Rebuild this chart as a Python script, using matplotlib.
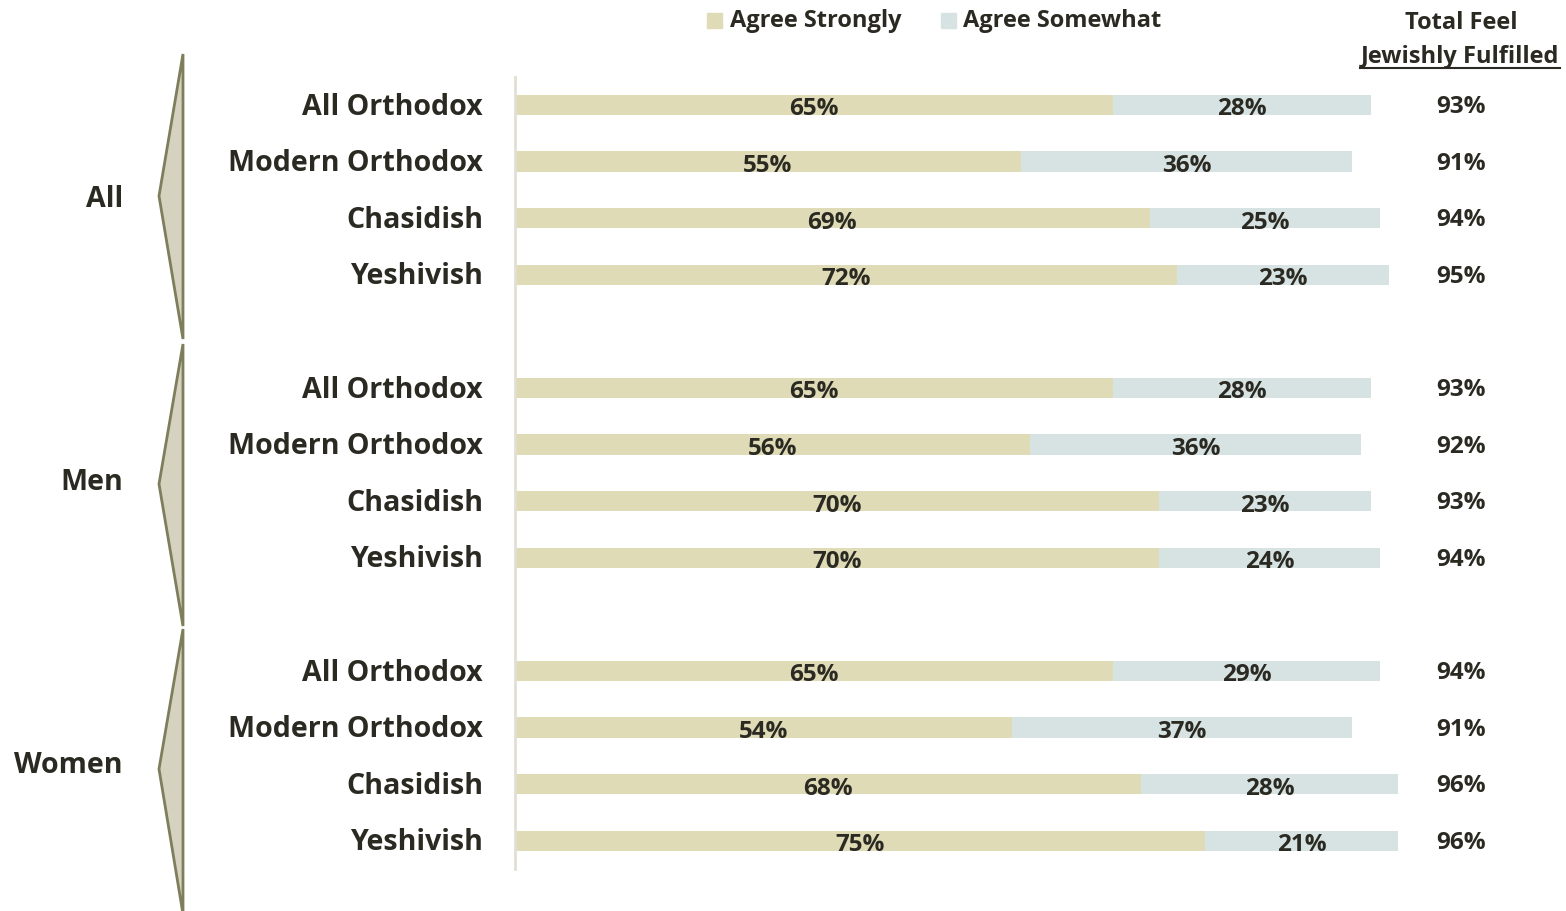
import matplotlib
matplotlib.use('Agg')
import matplotlib.pyplot as plt
from matplotlib.patches import Polygon, Rectangle
from matplotlib.lines import Line2D

# data
groups = ['All', 'Men', 'Women']
categories = ['All Orthodox', 'Modern Orthodox', 'Chasidish', 'Yeshivish']
strongly = [[65, 55, 69, 72],
            [65, 56, 70, 70],
            [65, 54, 68, 75]]
somewhat = [[28, 36, 25, 23],
            [28, 36, 23, 24],
            [29, 37, 28, 21]]
totals = [[93, 91, 94, 95],
          [93, 92, 93, 94],
          [94, 91, 96, 96]]

c_strong = '#dfdbb7'
c_some = '#d7e3e3'
c_text = '#2b2a22'
plt.rcParams['font.family'] = ['Open Sans', 'DejaVu Sans']
plt.rcParams['font.weight'] = 'bold'

W, H = 1566, 912
fig = plt.figure(figsize=(W / 100, H / 100), dpi=100)
ax = fig.add_axes([515 / W, 0, 920 / W, 1])
ax.set_xlim(0, 100)
row_px = 56.6
ax.set_ylim((H - 106) / row_px, -106 / row_px)
ax.axis('off')

def xd(px):
    return (px - 515) / 9.2

for g, grp in enumerate(groups):
    for c, cat in enumerate(categories):
        y = g * 5 + c
        s = strongly[g][c]
        m = somewhat[g][c]
        ax.barh(y, s, height=0.36, color=c_strong, left=0)
        ax.barh(y, m, height=0.36, color=c_some, left=s)
        ax.text(s / 2, y + 0.06, f'{s}%', ha='center', va='center', fontsize=17.5, color=c_text)
        ax.text(s + m / 2, y + 0.06, f'{m}%', ha='center', va='center', fontsize=17.5, color=c_text)
        ax.text(xd(1461), y + 0.02, f'{totals[g][c]}%', ha='center', va='center', fontsize=17.5,
                color=c_text, clip_on=False)
        ax.text(xd(483), y + 0.02, cat, ha='right', va='center', fontsize=20.6, color=c_text, clip_on=False)
    ax.text(xd(123), g * 5 + 1.66, grp, ha='right', va='center', fontsize=20.6, color=c_text, clip_on=False)

ax.plot([0, 0], [-0.5, 13.5], color='#e2dfd3', lw=2, clip_on=False)

# header on the right
ax.text(xd(1461), -1.47, 'Total Feel', ha='center', va='center', fontsize=17, color=c_text, clip_on=False)
ax.text(xd(1460), -0.86, 'Jewishly Fulfilled', ha='center', va='center', fontsize=17, color=c_text,
        clip_on=False)

def fx(px):
    return px / W

def fy(py):
    return 1 - py / H

fig.add_artist(Line2D([fx(1360), fx(1560)], [fy(69), fy(69)], color=c_text, lw=1.5))

# legend
fig.add_artist(Rectangle((fx(707), fy(29)), 15 / W, 15 / H, color=c_strong))
fig.text(fx(730), fy(21), 'Agree Strongly', ha='left', va='center', fontsize=17, color=c_text)
fig.add_artist(Rectangle((fx(941), fy(29)), 15 / W, 15 / H, color=c_some))
fig.text(fx(963), fy(21), 'Agree Somewhat', ha='left', va='center', fontsize=17, color=c_text)

# chevrons beside the group labels
for top, tip, bot in [(55, 197, 340), (345, 485, 627), (630, 770, 915)]:
    pts = [(fx(183), fy(top)), (fx(159), fy(tip)), (fx(183), fy(bot))]
    fig.add_artist(Polygon(pts, closed=True, facecolor='#d5d2c0', edgecolor='#7e7d5c', lw=2))

fig.savefig('out.png', dpi=100)
